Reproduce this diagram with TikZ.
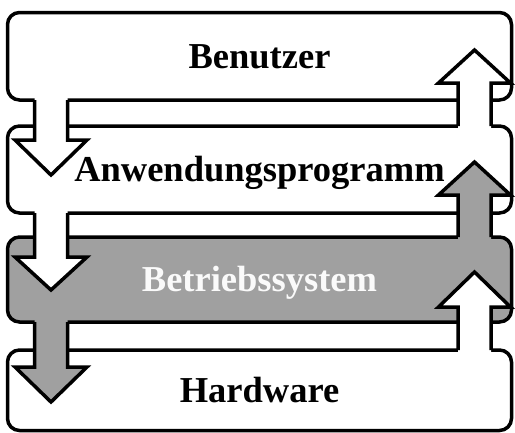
\documentclass[tikz,border=0pt]{standalone}
\usepackage{fontspec}
\setmainfont{Liberation Serif}
\usetikzlibrary{calc}
\definecolor{osgray}{RGB}{160,160,160}
\definecolor{ostext}{RGB}{250,250,250}
\newcommand{\blockarrow}[5]{%
  \fill[#1] ({#2-16.5},{#3+0.15*(#3-#4)}) -- ({#2-16.5},#4) -- ({#2-36},#4) -- (#2,#5)
    -- ({#2+36},#4) -- ({#2+16.5},#4) -- ({#2+16.5},{#3+0.15*(#3-#4)}) -- cycle;
  \draw[outline] ({#2-16.5},#3) -- ({#2-16.5},#4) -- ({#2-36},#4) -- (#2,#5)
    -- ({#2+36},#4) -- ({#2+16.5},#4) -- ({#2+16.5},#3);}

\begin{document}
\begin{tikzpicture}[x=1pt,y=-1pt,
  outline/.style={line width=3.5pt,black},
  layer/.style={draw,outline,fill=white,rounded corners=12pt,minimum width=504pt,
    inner sep=0pt,text height=24pt,text depth=0pt,
    font=\bfseries\fontsize{36.5}{42}\selectfont}]
  \useasboundingbox (0,0) rectangle (515,432);
  \node[layer,minimum height=87.5pt] (benutzer) at (259.5,56.25) {Benutzer};
  \node[layer,minimum height=87pt] (anwendung) at (259.5,169.5) {Anwendungsprogramm};
  \node[layer,minimum height=85pt,fill=osgray,text=ostext] (system) at (259.5,279.5) {Betriebssystem};
  \node[layer,minimum height=80.5pt] (hardware) at (259.5,390.25) {Hardware};
  \blockarrow{white}{51}{100}{140}{175}
  \blockarrow{white}{51}{213}{257}{290}
  \blockarrow{osgray}{51}{322}{367}{402}
  \blockarrow{white}{474.5}{126}{83}{50}
  \blockarrow{osgray}{474.5}{237}{195}{162}
  \blockarrow{white}{474.5}{350}{307}{272}
\end{tikzpicture}
\end{document}
